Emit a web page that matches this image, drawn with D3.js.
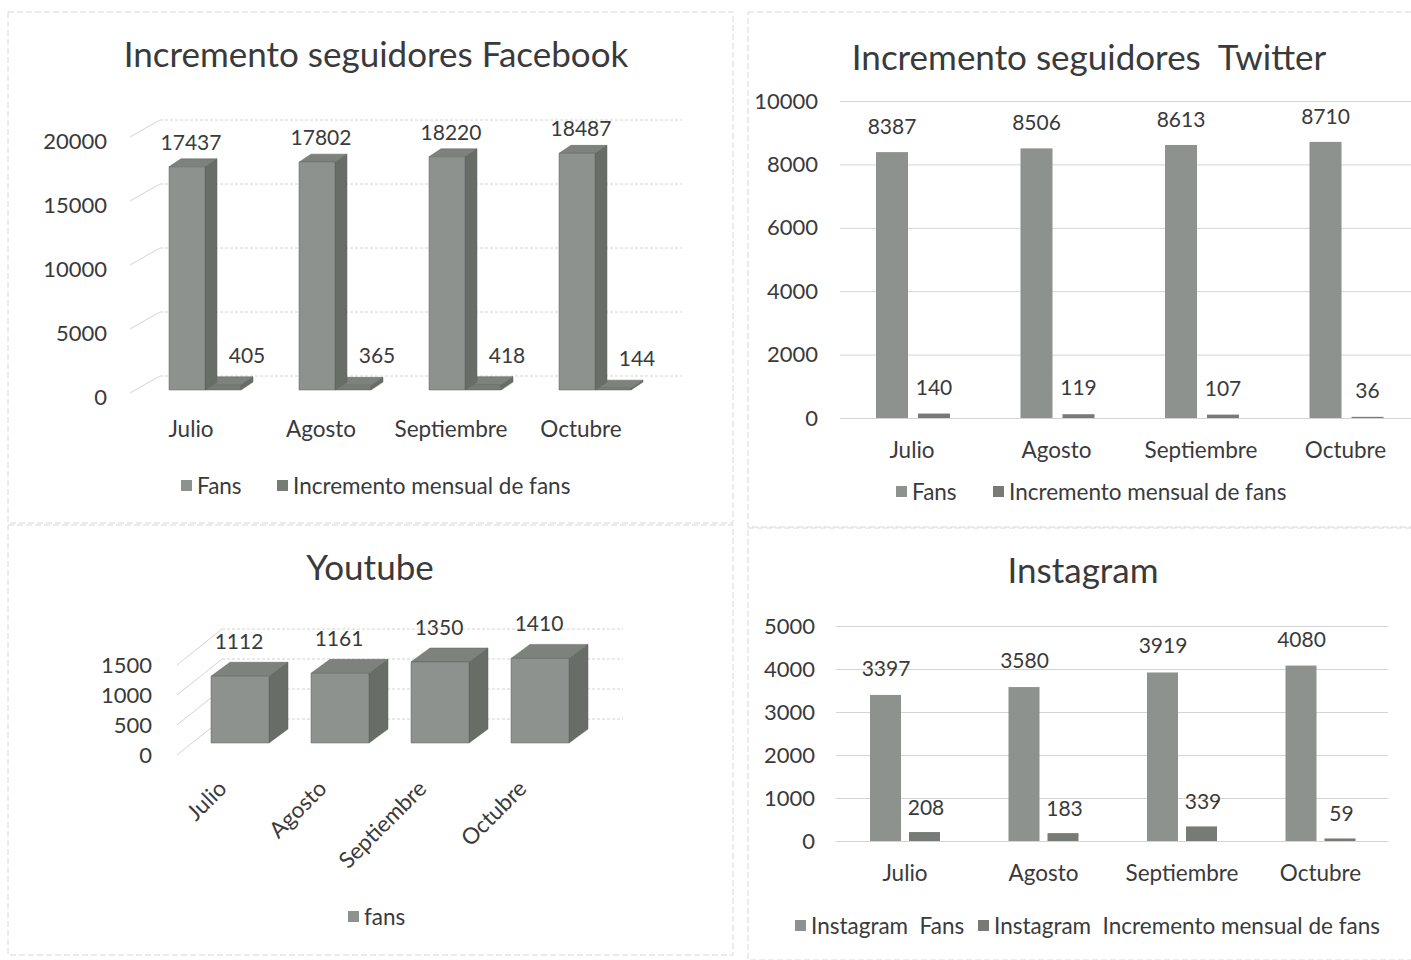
<!DOCTYPE html>
<html>
<head>
<meta charset="utf-8">
<script src="https://cdn.jsdelivr.net/npm/d3@7"></script>
<style>
body{margin:0;background:#fff;}
svg text{font-family:Lato,"Open Sans",sans-serif;fill:#3a3a3a;}
</style>
</head>
<body>
<svg id="graph"></svg>
<script>
// data
var months = ["Julio","Agosto","Septiembre","Octubre"]
var fbFans = [17437,17802,18220,18487]
var fbInc = [405,365,418,144]
var twFans = [8387,8506,8613,8710]
var twInc = [140,119,107,36]
var ytFans = [1112,1161,1350,1410]
var igFans = [3397,3580,3919,4080]
var igInc = [208,183,339,59]
var fbTicks = [0,5000,10000,15000,20000]
var twTicks = [0,2000,4000,6000,8000,10000]
var ytTicks = [0,500,1000,1500]
var igTicks = [0,1000,2000,3000,4000,5000]

var width=1411, height=960
var fansCol="#8e928e", incCol="#767b76", sideCol="#686d68", topCol="#7d827d"
var gridCol="#d4d4d4"
var fmt=d3.format("d")

var svg=d3.select("svg").attr("width",width).attr("height",height)

// panel frames
var frames=[[8,12,725,511],[748,12,670,515],[8,525,725,430],[748,528,670,432]]
svg.selectAll("rect.frame").data(frames).enter().append("rect")
    .attr("class","frame")
    .attr("x",function(d){return d[0]}).attr("y",function(d){return d[1]})
    .attr("width",function(d){return d[2]}).attr("height",function(d){return d[3]})
    .attr("fill","none").attr("stroke","#d8d8d8").attr("stroke-dasharray","6,3")

var title=function(txt,x,y){
    svg.append("text").attr("x",x).attr("y",y).attr("text-anchor","middle")
        .attr("font-size",35).style("white-space","pre").text(txt)
}
var legend=function(items,y){
    items.forEach(function(it){
        svg.append("rect").attr("x",it.x).attr("y",y-6).attr("width",11).attr("height",11).attr("fill",it.col)
        svg.append("text").attr("x",it.x+16).attr("y",y+8).attr("font-size",22.5)
            .style("white-space","pre").text(it.label)
    })
}
var poly=function(pts,fill){
    svg.append("polygon").attr("points",pts.map(function(p){return p.join(",")}).join(" "))
        .attr("fill",fill).attr("stroke","#5e625e").attr("stroke-width",0.5)
}
var box=function(x,y0,w,h,dx,dy,front){
    // front face, side and top of a 3D column
    poly([[x+w,y0],[x+w+dx,y0+dy],[x+w+dx,y0-h+dy],[x+w,y0-h]],sideCol)
    poly([[x,y0-h],[x+dx,y0-h+dy],[x+w+dx,y0-h+dy],[x+w,y0-h]],topCol)
    poly([[x,y0],[x+w,y0],[x+w,y0-h],[x,y0-h]],front)
}
var styleAxis=function(g){
    g.select(".domain").remove()
    g.selectAll("text").attr("font-size",22).style("font-family","Lato").attr("fill","#3a3a3a")
}

// ---------- Facebook (3D) ----------
title("Incremento seguidores Facebook",376,67)
var fbX=d3.scaleBand().domain(months).range([150,670])
var fbY=d3.scaleLinear().domain([0,20000]).range([390,134])
var fbBack={dx:30,dy:-14}
fbTicks.forEach(function(t){
    var y=fbY(t)
    svg.append("line").attr("x1",160).attr("x2",682).attr("y1",y+fbBack.dy).attr("y2",y+fbBack.dy)
        .attr("stroke",gridCol).attr("stroke-dasharray","3,2")
    svg.append("line").attr("x1",130).attr("x2",160).attr("y1",y+3).attr("y2",y+fbBack.dy)
        .attr("stroke",gridCol)
})
svg.append("g").attr("transform","translate(107,7)")
    .call(d3.axisLeft(fbY).tickValues(fbTicks).tickFormat(fmt).tickSize(0).tickPadding(0))
    .call(styleAxis)
months.forEach(function(m,i){
    var x=fbX(m)+19
    box(x+36,fbY(0),36,fbY(0)-fbY(fbInc[i]),12,-8,incCol)
    box(x,fbY(0),36,fbY(0)-fbY(fbFans[i]),12,-8,fansCol)
    svg.append("text").attr("x",x+22).attr("y",fbY(fbFans[i])-17).attr("text-anchor","middle")
        .attr("font-size",21).text(fbFans[i])
    svg.append("text").attr("x",x+36+42).attr("y",fbY(fbInc[i])-22).attr("text-anchor","middle")
        .attr("font-size",21).text(fbInc[i])
    svg.append("text").attr("x",x+22).attr("y",437).attr("text-anchor","middle")
        .attr("font-size",22.5).text(m)
})
legend([{x:181,col:fansCol,label:"Fans"},{x:277,col:incCol,label:"Incremento mensual de fans"}],486)

// ---------- Twitter ----------
title("Incremento seguidores  Twitter",1089,70)
var twX=d3.scaleBand().domain(months).range([840,1418])
var twY=d3.scaleLinear().domain([0,10000]).range([418,101])
var twGrid=svg.append("g").attr("transform","translate(840,0)")
    .call(d3.axisLeft(twY).tickValues(twTicks).tickSize(-578).tickFormat(""))
twGrid.select(".domain").remove()
twGrid.selectAll("line").attr("stroke",gridCol)
svg.append("g").attr("transform","translate(818,0)")
    .call(d3.axisLeft(twY).tickValues(twTicks).tickFormat(fmt).tickSize(0).tickPadding(0))
    .call(styleAxis)
svg.selectAll("rect.twf").data(twFans).enter().append("rect").attr("class","twf")
    .attr("x",function(d,i){return twX(months[i])+36}).attr("width",32)
    .attr("y",function(d){return twY(d)}).attr("height",function(d){return twY(0)-twY(d)})
    .attr("fill",fansCol)
svg.selectAll("rect.twi").data(twInc).enter().append("rect").attr("class","twi")
    .attr("x",function(d,i){return twX(months[i])+78}).attr("width",32)
    .attr("y",function(d){return twY(d)}).attr("height",function(d){return twY(0)-twY(d)})
    .attr("fill",incCol)
months.forEach(function(m,i){
    svg.append("text").attr("x",twX(m)+52).attr("y",twY(twFans[i])-18).attr("text-anchor","middle")
        .attr("font-size",21).text(twFans[i])
    svg.append("text").attr("x",twX(m)+94).attr("y",twY(twInc[i])-19).attr("text-anchor","middle")
        .attr("font-size",21).text(twInc[i])
    svg.append("text").attr("x",twX(m)+72).attr("y",458).attr("text-anchor","middle")
        .attr("font-size",22.5).text(m)
})
legend([{x:896,col:fansCol,label:"Fans"},{x:993,col:incCol,label:"Incremento mensual de fans"}],492)

// ---------- Youtube (3D) ----------
title("Youtube",370,580)
var ytX=d3.scaleBand().domain(months).range([190,590])
var ytH=d3.scaleLinear().domain([0,1500]).range([0,90])
ytTicks.forEach(function(t){
    var h=ytH(t)
    svg.append("line").attr("x1",222).attr("x2",623).attr("y1",719-h).attr("y2",719-h)
        .attr("stroke",gridCol).attr("stroke-dasharray","3,2")
    svg.append("line").attr("x1",177).attr("x2",222).attr("y1",755-h).attr("y2",719-h)
        .attr("stroke",gridCol)
    svg.append("text").attr("x",152).attr("y",755-h+8).attr("text-anchor","end")
        .attr("font-size",22).text(t)
})
months.forEach(function(m,i){
    var x=ytX(m)+21
    box(x,743,58,ytH(ytFans[i]),19,-14,fansCol)
    svg.append("text").attr("x",x+28).attr("y",743-ytH(ytFans[i])-27).attr("text-anchor","middle")
        .attr("font-size",21).text(ytFans[i])
    svg.append("text").attr("transform","translate("+(x+17)+",790) rotate(-45)")
        .attr("text-anchor","end").attr("font-size",22.5).text(m)
})
legend([{x:348,col:fansCol,label:"fans"}],917)

// ---------- Instagram ----------
title("Instagram",1083,583)
var igX=d3.scaleBand().domain(months).range([836,1390])
var igY=d3.scaleLinear().domain([0,5000]).range([841,626])
var igGrid=svg.append("g").attr("transform","translate(836,0)")
    .call(d3.axisLeft(igY).tickValues(igTicks).tickSize(-552).tickFormat(""))
igGrid.select(".domain").remove()
igGrid.selectAll("line").attr("stroke",gridCol)
svg.append("g").attr("transform","translate(815,0)")
    .call(d3.axisLeft(igY).tickValues(igTicks).tickFormat(fmt).tickSize(0).tickPadding(0))
    .call(styleAxis)
svg.selectAll("rect.igf").data(igFans).enter().append("rect").attr("class","igf")
    .attr("x",function(d,i){return igX(months[i])+34}).attr("width",31)
    .attr("y",function(d){return igY(d)}).attr("height",function(d){return igY(0)-igY(d)})
    .attr("fill",fansCol)
svg.selectAll("rect.igi").data(igInc).enter().append("rect").attr("class","igi")
    .attr("x",function(d,i){return igX(months[i])+73}).attr("width",31)
    .attr("y",function(d){return igY(d)}).attr("height",function(d){return igY(0)-igY(d)})
    .attr("fill",incCol)
months.forEach(function(m,i){
    svg.append("text").attr("x",igX(m)+50).attr("y",igY(igFans[i])-19).attr("text-anchor","middle")
        .attr("font-size",21).text(igFans[i])
    svg.append("text").attr("x",igX(m)+90).attr("y",igY(igInc[i])-17).attr("text-anchor","middle")
        .attr("font-size",21).text(igInc[i])
    svg.append("text").attr("x",igX(m)+69).attr("y",881).attr("text-anchor","middle")
        .attr("font-size",22.5).text(m)
})
legend([{x:795,col:fansCol,label:"Instagram  Fans"},{x:978,col:incCol,label:"Instagram  Incremento mensual de fans"}],926)
</script>
</body>
</html>
